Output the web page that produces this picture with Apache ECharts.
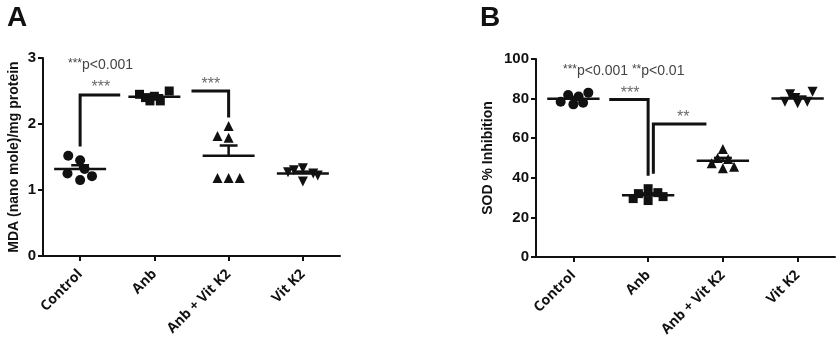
<!DOCTYPE html>
<html>
<head>
<meta charset="utf-8">
<script src="https://cdn.jsdelivr.net/npm/echarts@6/dist/echarts.min.js"></script>
<style>
  html, body { margin: 0; padding: 0; background: #fff; }
  #chart { width: 839px; height: 346px; }
</style>
</head>
<body>
<div id="chart"></div>
<script>
// Groups shared by both panels
const groups = ['Control', 'Anb', 'Anb + Vit K2', 'Vit K2'];

// Panel A: MDA (nano mole)/mg protein, one array per group (n = 6)
const mdaControl = [1.52, 1.45, 1.25, 1.15, 1.21, 1.32];
const mdaAnb = [2.45, 2.35, 2.35, 2.50, 2.42, 2.40];
const mdaAnbVitK2 = [1.97, 1.82, 1.79, 1.18, 1.18, 1.18];
const mdaVitK2 = [1.30, 1.33, 1.25, 1.13, 1.27, 1.22];

// Panel B: SOD % inhibition
const sodControl = [81.8, 78.4, 77.1, 77.9, 83.0, 81.0];
const sodAnb = [34.5, 32.0, 32.5, 28.5, 29.5, 30.5];
const sodAnbVitK2 = [54.5, 47.3, 44.8, 45.6, 50.0, 49.5];
const sodVitK2 = [82.2, 83.5, 78.4, 77.6, 78.4, 80.3];

// Y-axis ticks
const mdaTicks = [0, 1, 2, 3];
const sodTicks = [0, 20, 40, 60, 80, 100];

// Horizontal spread of the six points inside each group (category units)
const spreadControl = [-0.16, 0.0, -0.17, 0.0, 0.16, 0.06];
const spreadAnb = [-0.2, -0.06, 0.08, 0.2, 0.0, -0.12];
const spreadTri = [0.0, -0.15, 0.0, -0.15, 0.0, 0.15];
const spreadTriB = [0.0, -0.15, 0.0, 0.15, -0.07, 0.07];
const spreadVit = [-0.12, 0.0, 0.14, 0.0, -0.2, 0.2];
const spreadCtrlB = [-0.07, -0.17, 0.0, 0.13, 0.2, 0.07];
const spreadAnbB = [0.0, -0.13, 0.13, 0.0, -0.2, 0.2];
const spreadVitB = [-0.1, 0.2, -0.17, 0.0, 0.13, -0.03];

const symbols = ['circle', 'rect', 'triangle', 'triangle'];
const rotations = [0, 0, 0, 180];

function mean(a) { return a.reduce((s, v) => s + v, 0) / a.length; }
function sem(a) {
  const m = mean(a);
  const v = a.reduce((s, x) => s + (x - m) * (x - m), 0) / (a.length - 1);
  return Math.sqrt(v / a.length);
}

function pointSeries(values, spread, gi, axisIdx) {
  return {
    type: 'scatter',
    xAxisIndex: axisIdx,
    yAxisIndex: axisIdx - 2,
    symbol: symbols[gi],
    symbolRotate: rotations[gi],
    symbolSize: gi === 1 ? 9 : 10,
    itemStyle: { color: '#111', opacity: 1 },
    z: 3,
    silent: true,
    data: values.map((v, i) => [gi + spread[i], v])
  };
}

function meanSeries(sets, axisIdx) {
  return {
    type: 'custom',
    xAxisIndex: axisIdx,
    yAxisIndex: axisIdx - 2,
    z: 4,
    silent: true,
    data: sets.map((s, i) => [i, mean(s), sem(s)]),
    renderItem: function (params, api) {
      const x = api.value(0), m = api.value(1), e = api.value(2);
      const pm = api.coord([x, m]);
      const pu = api.coord([x, m + e]);
      const unit = api.size([1, 0])[0];
      const half = unit * 0.35, whisk = unit * 0.12;
      const style = { stroke: '#111', lineWidth: 2.5, fill: null };
      return {
        type: 'group',
        children: [
          { type: 'line', shape: { x1: pm[0] - half, y1: pm[1], x2: pm[0] + half, y2: pm[1] }, style: style },
          { type: 'line', shape: { x1: pm[0], y1: pm[1], x2: pu[0], y2: pu[1] }, style: style },
          { type: 'line', shape: { x1: pu[0] - whisk, y1: pu[1], x2: pu[0] + whisk, y2: pu[1] }, style: style }
        ]
      };
    }
  };
}

// Significance brackets: each item is a polyline in (group, value) units
function bracketSeries(paths, axisIdx) {
  return {
    type: 'custom',
    xAxisIndex: axisIdx,
    yAxisIndex: axisIdx - 2,
    z: 2,
    silent: true,
    data: paths.map((p, i) => [i]),
    renderItem: function (params, api) {
      const p = paths[api.value(0)];
      const pts = p.map(q => api.coord(q));
      return {
        type: 'polyline',
        shape: { points: pts },
        style: { stroke: '#111', lineWidth: 3, fill: null }
      };
    }
  };
}

function starSeries(items, axisIdx) {
  return {
    type: 'scatter',
    xAxisIndex: axisIdx,
    yAxisIndex: axisIdx - 2,
    symbolSize: 0,
    silent: true,
    data: items.map(it => ({ value: [it[0], it[1]], name: it[2] })),
    label: {
      show: true,
      position: 'inside',
      formatter: '{b}',
      color: '#444',
      fontSize: 16,
      fontFamily: 'Liberation Sans, Arial, sans-serif'
    }
  };
}

const mdaSets = [mdaControl, mdaAnb, mdaAnbVitK2, mdaVitK2];
const sodSets = [sodControl, sodAnb, sodAnbVitK2, sodVitK2];

const font = 'Liberation Sans, Arial, sans-serif';
const axisLine = { show: true, onZero: false, lineStyle: { color: '#111', width: 2 } };
const axisTick = { show: true, length: 5, lineStyle: { color: '#111', width: 2 } };

function catAxis(gi) {
  return {
    type: 'category',
    gridIndex: gi,
    data: groups,
    boundaryGap: true,
    axisLine: axisLine,
    axisTick: { show: true, alignWithLabel: true, length: 5, lineStyle: { color: '#111', width: 2 } },
    axisLabel: { rotate: 45, fontSize: 14, fontWeight: 'bold', color: '#111', fontFamily: 'Open Sans, sans-serif', margin: 16 },
    splitLine: { show: false }
  };
}
function hiddenX(gi) {
  return { type: 'value', gridIndex: gi, min: -0.5, max: 3.5, show: false, splitLine: { show: false } };
}
function valAxis(gi, ticks, name, gap) {
  return {
    type: 'value',
    gridIndex: gi,
    min: ticks[0],
    max: ticks[ticks.length - 1],
    interval: ticks[1] - ticks[0],
    name: name,
    nameLocation: 'middle',
    nameGap: gap,
    nameTextStyle: { fontSize: 14, fontWeight: 'bold', color: '#111', fontFamily: font },
    axisLine: axisLine,
    axisTick: axisTick,
    axisLabel: { fontSize: 15, fontWeight: 'bold', color: '#111', fontFamily: font, margin: 7 },
    splitLine: { show: false }
  };
}

const chart = echarts.init(document.getElementById('chart'), null, { renderer: 'canvas' });

chart.setOption({
  animation: false,
  backgroundColor: '#fff',
  grid: [
    { left: 43, top: 58, width: 297, height: 198 },
    { left: 536, top: 59, width: 299, height: 198 }
  ],
  xAxis: [catAxis(0), catAxis(1), hiddenX(0), hiddenX(1)],
  yAxis: [
    valAxis(0, mdaTicks, 'MDA (nano mole)/mg protein', 22),
    valAxis(1, sodTicks, 'SOD % Inhibition', 41)
  ],
  graphic: [
    { type: 'text', left: 7, top: 4, style: { text: 'A', font: 'bold 28px ' + font, fill: '#111' } },
    { type: 'text', left: 480, top: 4, style: { text: 'B', font: 'bold 28px ' + font, fill: '#111' } },
    {
      type: 'text', left: 68, top: 58,
      style: {
        text: '{s|***}p<0.001',
        rich: { s: { fontSize: 12, verticalAlign: 'top', fill: '#444', fontFamily: font } },
        font: '14px ' + font, fill: '#444'
      }
    },
    {
      type: 'text', left: 563, top: 64,
      style: {
        text: '{s|***}p<0.001 {s|**}p<0.01',
        rich: { s: { fontSize: 12, verticalAlign: 'top', fill: '#444', fontFamily: font } },
        font: '14px ' + font, fill: '#444'
      }
    }
  ],
  series: [
    ...mdaSets.map((s, gi) => pointSeries(s, [spreadControl, spreadAnb, spreadTri, spreadVit][gi], gi, 2)),
    meanSeries(mdaSets, 2),
    bracketSeries([
      [[0, 1.66], [0, 2.44], [0.54, 2.44]],
      [[1.5, 2.5], [2.0, 2.5], [2.0, 2.1]]
    ], 2),
    starSeries([[0.28, 2.55, '***'], [1.76, 2.6, '***']], 2),
    ...sodSets.map((s, gi) => pointSeries(s, [spreadCtrlB, spreadAnbB, spreadTriB, spreadVitB][gi], gi, 3)),
    meanSeries(sodSets, 3),
    bracketSeries([
      [[0.48, 79.6], [1.0, 79.6], [1.0, 41]],
      [[1.07, 42], [1.07, 67.2], [1.78, 67.2]]
    ], 3),
    starSeries([[0.76, 82.5, '***'], [1.47, 70.5, '**']], 3)
  ]
});
</script>
</body>
</html>
